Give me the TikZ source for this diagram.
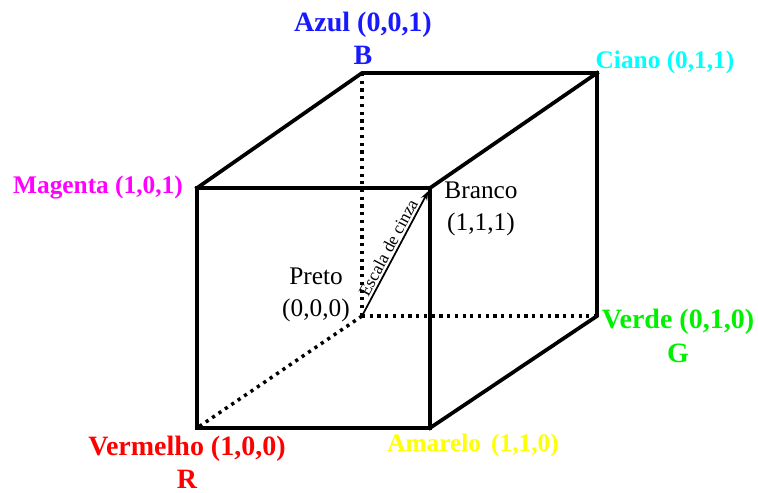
\documentclass[tikz,border=0pt]{standalone}
\usepackage{fontspec}
\setmainfont{Liberation Serif}
\usetikzlibrary{arrows.meta}
\definecolor{azul}{RGB}{25,25,255}
\definecolor{ciano}{RGB}{0,255,255}
\definecolor{magenta}{RGB}{255,0,255}
\definecolor{verde}{RGB}{0,240,0}
\definecolor{vermelho}{RGB}{255,0,0}
\definecolor{amarelo}{RGB}{255,255,0}
\tikzset{
    edge/.style={line width=2.8pt, line cap=rect},
    hidden/.style={line width=2.6pt, dash pattern=on 2.4pt off 3.4pt},
    grayline/.style={-{Stealth[length=7pt, width=5pt]}, line width=1.3pt, shorten >=2.5pt},
    vertex/.style={font=\bfseries\fontsize{21}{25}\selectfont, align=center, inner sep=0pt},
    small vertex/.style={vertex, font=\bfseries\fontsize{19}{23}\selectfont},
    note/.style={font=\fontsize{19}{23.5}\selectfont, align=center, inner sep=0pt},
}

\begin{document}
\begin{tikzpicture}[x=0.75pt, y=-0.75pt]
    \useasboundingbox (0,0) rectangle (758,493);
    % corners of the cube
    \coordinate (magenta) at (197,188);
    \coordinate (branco) at (430,188);
    \coordinate (vermelho) at (197,428);
    \coordinate (amarelo) at (430,428);
    \coordinate (azul) at (362,73);
    \coordinate (ciano) at (597,73);
    \coordinate (preto) at (362,316);
    \coordinate (verde) at (597,316);

    % hidden edges
    \draw[hidden] (azul) -- (preto);
    \draw[hidden] (preto) -- (verde);
    \draw[hidden] (preto) -- (vermelho);

    % visible edges
    \draw[edge] (magenta) -- (branco) -- (amarelo) -- (vermelho) -- cycle;
    \draw[edge] (magenta) -- (azul) -- (ciano) -- (verde) -- (amarelo);
    \draw[edge] (branco) -- (ciano);

    % gray scale diagonal
    \draw[grayline] (preto) -- node[sloped, above, inner sep=1.5pt,
        font=\fontsize{13}{15}\selectfont] {Escala de cinza} (branco);

    % labels
    \node[vertex, text=azul] (lazul) at (363,38) {Azul (0,0,1)\\B};
    \node[small vertex, text=ciano] (lciano) at (665,62) {Ciano (0,1,1)};
    \node[small vertex, text=magenta] (lmagenta) at (98,188) {Magenta (1,0,1)};
    \node[vertex, text=verde] (lverde) at (678,336) {Verde (0,1,0)\\G};
    \node[vertex, text=vermelho] (lvermelho) at (187,462) {Vermelho (1,0,0)\\R};
    \node[small vertex, text=amarelo] (lamarelo) at (473,445) {Amarelo\hspace{0.4em}(1,1,0)};
    \node[note] (lbranco) at (481,209) {Branco\\(1,1,1)};
    \node[note] (lpreto) at (316,295) {Preto\\(0,0,0)};
\end{tikzpicture}
\end{document}
